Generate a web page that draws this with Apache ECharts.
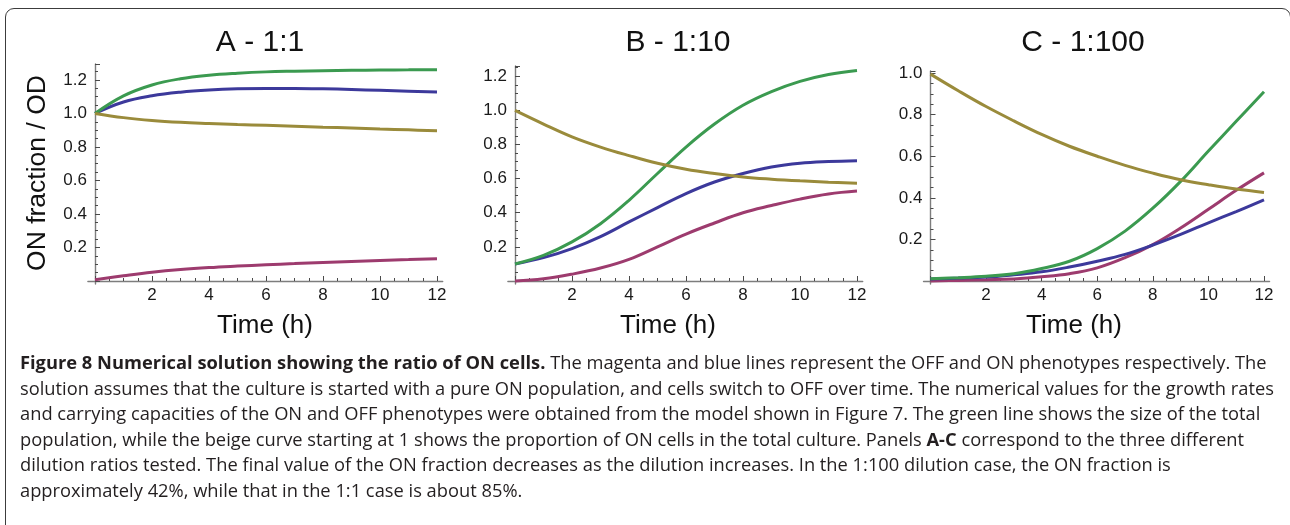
<!DOCTYPE html>
<html>
<head>
<meta charset="utf-8">
<script src="https://cdn.jsdelivr.net/npm/echarts@6/dist/echarts.min.js"></script>
<style>
  html, body { margin: 0; padding: 0; background: #fff; }
  #wrap { position: relative; width: 1290px; height: 525px; overflow: hidden; }
  #frame {
    position: absolute; left: 5px; top: 8px; width: 1286px; height: 560px;
    border: 1.5px solid #3c3c3c; border-radius: 9px; box-sizing: border-box;
  }
  #chart { position: absolute; left: 0; top: 0; width: 1290px; height: 525px; }
  #caption {
    position: absolute; left: 20px; top: 350px;
    font-family: 'Liberation Sans Narrow', 'Open Sans', sans-serif;
    font-size: 18px; line-height: 25.5px; color: #231f20;
    white-space: nowrap; transform-origin: 0 0;
  }
  #caption b { font-weight: bold; }
</style>
</head>
<body>
<div id="wrap">
  <div id="frame"></div>
  <div id="chart"></div>
  <div id="caption">
    <div><b>Figure 8 Numerical solution showing the ratio of ON cells.</b> The magenta and blue lines represent the OFF and ON phenotypes respectively. The</div>
    <div id="capLine2">solution assumes that the culture is started with a pure ON population, and cells switch to OFF over time. The numerical values for the growth rates</div>
    <div>and carrying capacities of the ON and OFF phenotypes were obtained from the model shown in Figure 7. The green line shows the size of the total</div>
    <div>population, while the beige curve starting at 1 shows the proportion of ON cells in the total culture. Panels <b>A-C</b> correspond to the three different</div>
    <div>dilution ratios tested. The final value of the ON fraction decreases as the dilution increases. In the 1:100 dilution case, the ON fraction is</div>
    <div>approximately 42%, while that in the 1:1 case is about 85%.</div>
  </div>
</div>
<script>
// time points (h)
var hours = [0, 1, 2, 3, 4, 5, 6, 7, 8, 9, 10, 11, 12];

// A - 1:1
var greenA   = [1.0, 1.105, 1.170, 1.207, 1.228, 1.240, 1.248, 1.252, 1.255, 1.257, 1.259, 1.260, 1.261];
var blueA    = [1.0, 1.068, 1.105, 1.127, 1.140, 1.147, 1.149, 1.149, 1.147, 1.143, 1.138, 1.133, 1.128];
var goldA    = [1.0, 0.975, 0.958, 0.947, 0.940, 0.934, 0.929, 0.924, 0.918, 0.913, 0.907, 0.902, 0.897];
var magentaA = [0.008, 0.031, 0.052, 0.068, 0.080, 0.089, 0.097, 0.104, 0.111, 0.117, 0.123, 0.128, 0.133];

// B - 1:10
var greenB   = [0.10, 0.150, 0.229, 0.336, 0.473, 0.630, 0.785, 0.920, 1.030, 1.110, 1.170, 1.210, 1.234];
var blueB    = [0.10, 0.137, 0.190, 0.260, 0.346, 0.430, 0.512, 0.580, 0.630, 0.668, 0.690, 0.700, 0.705];
var goldB    = [1.0, 0.920, 0.845, 0.785, 0.735, 0.690, 0.655, 0.630, 0.610, 0.597, 0.587, 0.579, 0.573];
var magentaB = [0.0, 0.013, 0.040, 0.076, 0.127, 0.200, 0.275, 0.340, 0.400, 0.442, 0.480, 0.510, 0.527];

// C - 1:100
var greenC   = [0.011, 0.016, 0.023, 0.035, 0.060, 0.095, 0.156, 0.240, 0.350, 0.479, 0.625, 0.768, 0.910];
var blueC    = [0.010, 0.014, 0.019, 0.030, 0.044, 0.067, 0.095, 0.128, 0.173, 0.224, 0.280, 0.334, 0.390];
var goldC    = [0.995, 0.915, 0.839, 0.770, 0.705, 0.648, 0.600, 0.556, 0.519, 0.487, 0.463, 0.442, 0.426];
var magentaC = [0.0, 0.003, 0.006, 0.010, 0.020, 0.035, 0.063, 0.112, 0.175, 0.255, 0.345, 0.436, 0.520];

var panelTitles = ['A - 1:1', 'B - 1:10', 'C - 1:100'];
var yMaxes = [1.295, 1.26, 1.01];
var xTickStep = 2;
var yTickStep = 0.2;

var panelData = [
  [magentaA, blueA, greenA, goldA],
  [magentaB, blueB, greenB, goldB],
  [magentaC, blueC, greenC, goldC]
];
var lineColors = ['#9d3b6e', '#3c399b', '#3b9a50', '#9a8b3b'];

// pixel layout of each panel (x=0..12 span, y=0..max span)
var layout = [
  { left: 95,    width: 342,   top: 64, height: 217, titleX: 260,  nameX: 265 },
  { left: 515,   width: 342,   top: 66, height: 215, titleX: 678,  nameX: 668 },
  { left: 930.5, width: 333.5, top: 71, height: 210, titleX: 1083, nameX: 1074 }
];

var FONT = 'Liberation Sans, Arial, sans-serif';
var axisGray = '#7d7d7d';
var tickGray = '#4a4a4a';

function isStep(v, step) {
  var k = v / step;
  return Math.abs(k - Math.round(k)) < 1e-6;
}

var grids = [], xAxes = [], yAxes = [], series = [], graphics = [];

layout.forEach(function (p, i) {
  var pxPerH = p.width / 12;
  var pxPerY = p.height / yMaxes[i];

  // frame grid: axis lines only, slightly longer than the data range
  grids.push({
    left: p.left - 0.25 * pxPerH, width: 12.45 * pxPerH,
    top: p.top, height: p.height + 3
  });
  xAxes.push({
    gridIndex: 2 * i, type: 'value', min: -0.25, max: 12.2,
    axisLine: { onZero: true, lineStyle: { color: axisGray, width: 1.4 } },
    axisTick: { show: false }, axisLabel: { show: false }, splitLine: { show: false }
  });
  yAxes.push({
    gridIndex: 2 * i, type: 'value', min: -3 / pxPerY, max: yMaxes[i],
    axisLine: { show: true, onZero: true, lineStyle: { color: axisGray, width: 1.4 } },
    axisTick: { show: false }, axisLabel: { show: false }, splitLine: { show: false }
  });

  // data grid: ticks, labels and curves
  grids.push({ left: p.left, width: p.width, top: p.top, height: p.height });
  xAxes.push({
    gridIndex: 2 * i + 1, type: 'value', min: 0, max: 12, interval: xTickStep,
    axisLine: { show: false },
    axisTick: { inside: true, length: 5, lineStyle: { color: tickGray, width: 1 } },
    minorTick: { show: true, splitNumber: 4, length: 3, lineStyle: { color: tickGray, width: 1 } },
    axisLabel: {
      margin: 6, fontSize: 17, color: '#1a1a1a', fontFamily: FONT,
      formatter: function (v) { return v > 0 ? String(v) : ''; }
    },
    splitLine: { show: false }
  });
  yAxes.push({
    gridIndex: 2 * i + 1, type: 'value', min: 0, max: yMaxes[i], interval: yTickStep,
    axisLine: { show: false },
    axisTick: { inside: true, length: 5, lineStyle: { color: tickGray, width: 1 } },
    minorTick: { show: true, splitNumber: 4, length: 3, lineStyle: { color: tickGray, width: 1 } },
    axisLabel: {
      margin: 8, fontSize: 17, color: '#1a1a1a', fontFamily: FONT,
      formatter: function (v) { return (v > 0 && isStep(v, yTickStep)) ? v.toFixed(1) : ''; }
    },
    splitLine: { show: false }
  });

  panelData[i].forEach(function (vals, k) {
    series.push({
      type: 'line', xAxisIndex: 2 * i + 1, yAxisIndex: 2 * i + 1,
      data: hours.map(function (h, j) { return [h, vals[j]]; }),
      smooth: 0.4, showSymbol: false, clip: false,
      lineStyle: { color: lineColors[k], width: 3 },
      emphasis: { disabled: true }
    });
  });

  graphics.push({
    type: 'text', x: p.titleX, y: 43,
    style: { text: panelTitles[i], font: '30px ' + FONT, fill: '#111', align: 'center', verticalAlign: 'middle' }
  });
  graphics.push({
    type: 'text', x: p.nameX, y: 326,
    style: { text: 'Time (h)', font: '26px ' + FONT, fill: '#111', align: 'center', verticalAlign: 'middle' }
  });
});

graphics.push({
  type: 'text', x: 38, y: 173, rotation: Math.PI / 2,
  style: { text: 'ON fraction / OD', font: '26.5px ' + FONT, fill: '#111', align: 'center', verticalAlign: 'middle' }
});

var chart = echarts.init(document.getElementById('chart'));
chart.setOption({
  animation: false,
  grid: grids,
  xAxis: xAxes,
  yAxis: yAxes,
  series: series,
  graphic: graphics
});

// squeeze caption to the column width
var cap = document.getElementById('caption');
var probe = document.createElement('span');
probe.textContent = document.getElementById('capLine2').textContent;
probe.style.whiteSpace = 'nowrap';
cap.appendChild(probe);
var w = probe.getBoundingClientRect().width;
cap.removeChild(probe);
cap.style.transform = 'scaleX(' + (1254 / w) + ')';
</script>
</body>
</html>
